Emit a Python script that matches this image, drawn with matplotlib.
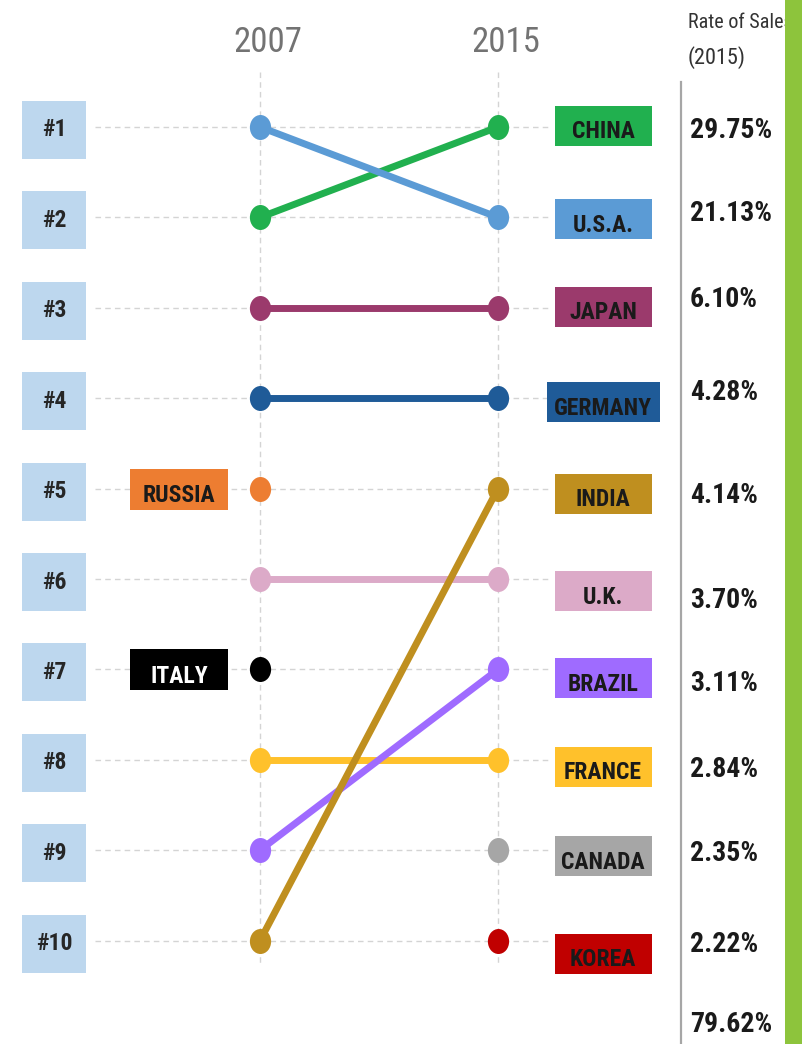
import os
import matplotlib
matplotlib.use("Agg")
import matplotlib.pyplot as plt
from matplotlib.patches import Rectangle
from matplotlib.path import Path
from matplotlib.transforms import Affine2D
from matplotlib import font_manager
from matplotlib.font_manager import FontProperties

# ---------------- data ----------------
years = ["2007", "2015"]
countries = ["CHINA", "U.S.A.", "JAPAN", "GERMANY", "RUSSIA", "U.K.", "ITALY",
             "FRANCE", "BRAZIL", "INDIA", "CANADA", "KOREA"]
rank_2007 = [2, 1, 3, 4, 5, 6, 7, 8, 9, 10, None, None]
rank_2015 = [1, 2, 3, 4, None, 6, None, 8, 7, 5, 9, 10]
colors = ["#21b04f", "#5b9bd5", "#9b3a6c", "#1f5b98", "#ed7d31", "#dcaac8",
          "#000000", "#ffc12b", "#9f6bff", "#bf8f1f", "#a6a6a6", "#c00000"]
rank_labels = ["#1", "#2", "#3", "#4", "#5", "#6", "#7", "#8", "#9", "#10"]
sales_rate_2015 = ["29.75%", "21.13%", "6.10%", "4.28%", "4.14%", "3.70%",
                   "3.11%", "2.84%", "2.35%", "2.22%"]
sales_total = "79.62%"

# layout nudges (pixels, per 2015 rank row) -- purely cosmetic placement
pct_nudge = [3, -4, -8, -6, 7, 21, 14, 10, 3, 4]
total_nudge = -6
box_nudge = [-1, 2, -1, 4, 5, 12, 9, 7, 6, 13]

# ---------------- fonts (prefer a condensed face) ----------------
files = [f.fname for f in font_manager.fontManager.ttflist]
files += font_manager.findSystemFonts()


def find_font(keys_list):
    for keys in keys_list:
        for f in files:
            b = os.path.basename(f).lower().replace(" ", "").replace("_", "")
            if all(k in b for k in keys):
                return f
    return None


bold_file = find_font([["liberationsansnarrow-bold."], ["liberationsansnarrow", "bold"],
                       ["robotocondensed-bold"], ["opensanscondensed-bold"],
                       ["dejavusanscondensed-bold."], ["dejavusans-bold."]])
reg_file = find_font([["liberationsansnarrow-regular"], ["liberationsansnarrow."],
                      ["robotocondensed-regular"], ["opensanscondensed-light"],
                      ["dejavusanscondensed."], ["dejavusans."]])


def fp(size, bold=False):
    f = bold_file if bold else reg_file
    if f:
        return FontProperties(fname=f, size=size)
    return FontProperties(family="DejaVu Sans", size=size,
                          weight="bold" if bold else "normal")


# ellipse marker (dots in the reference are slightly taller than wide)
circ = Path.unit_circle()
oval = Path(Affine2D().scale(0.85, 1.0).transform(circ.vertices), circ.codes)

# ---------------- figure / axes ----------------
W, H = 802, 1044
fig = plt.figure(figsize=(W / 100, H / 100), dpi=100)
ax = fig.add_axes([0, 0, 1, 1])
X0, X1 = 260, 498          # pixel x of the two year columns
Y1, DY = 127, 90.4         # pixel y of rank 1 and row spacing
ax.set_xlim((0 - X0) / (X1 - X0), (W - X0) / (X1 - X0))
ax.set_ylim(1 + (H - Y1) / DY, 1 - Y1 / DY)
ax.axis("off")


def px(p):
    return (p - X0) / (X1 - X0)


def pxw(w):
    return w / (X1 - X0)


def pyh(h):
    return h / DY


def py(p):
    return 1 + (p - Y1) / DY


n_ranks = len(rank_labels)
grid_col = "#d4d4d4"

# vertical dashed guides
for xi in range(len(years)):
    ax.plot([xi, xi], [py(72), py(965)], ls=(0, (4, 3)), color=grid_col, lw=1, zorder=1)

# horizontal dashed guides + rank boxes
for i, lab in enumerate(rank_labels):
    r = i + 1
    ax.plot([px(95), px(548)], [r, r], ls=(0, (4, 3)), color=grid_col, lw=1, zorder=1)
    ax.add_patch(Rectangle((px(22), r - pyh(26)), pxw(64), pyh(58),
                           facecolor="#bdd7ee", edgecolor="none", zorder=2))
    ax.text(px(54), r + pyh(3), lab, ha="center", va="center",
            fontproperties=fp(17, True), color="#262626", zorder=3)

# year headers
for xi, yr in enumerate(years):
    ax.text(xi + pxw(8), py(42), yr, ha="center", va="center",
            fontproperties=fp(25), color="#737373")

# slope lines and dots
for c, a, b, col in zip(countries, rank_2007, rank_2015, colors):
    if a is not None and b is not None:
        ax.plot([0, 1], [a, b], color=col, lw=5, solid_capstyle="round", zorder=4)
    if a is not None:
        ax.plot([0], [a], marker=oval, ls="none", color=col, ms=18, mec="none", zorder=5)
    if b is not None:
        ax.plot([1], [b], marker=oval, ls="none", color=col, ms=18, mec="none", zorder=5)

# country label boxes
for c, a, b, col in zip(countries, rank_2007, rank_2015, colors):
    txtcol = "#ffffff" if col == "#000000" else "#1a1a1a"
    if b is not None:
        w = 113 if c == "GERMANY" else 97
        cx = 603
        yc = b + pyh(box_nudge[b - 1])
        ax.add_patch(Rectangle((px(cx - w / 2), yc - pyh(20)), pxw(w), pyh(40),
                               facecolor=col, edgecolor="none", zorder=2))
        ax.text(px(cx), yc + pyh(6), c, ha="center", va="center",
                fontproperties=fp(17, True), color=txtcol, zorder=3)
    elif a is not None:
        ax.add_patch(Rectangle((px(130), a - pyh(20)), pxw(98), pyh(41),
                               facecolor=col, edgecolor="none", zorder=2))
        ax.text(px(179), a + pyh(7), c, ha="center", va="center",
                fontproperties=fp(17, True), color=txtcol, zorder=3)

# right separator line
ax.plot([px(681), px(681)], [py(82), py(H)], color="#a6a6a6", lw=1.6, zorder=1)

# rate of sales column
ax.text(px(688), py(22), "Rate of Sales", ha="left", va="center",
        fontproperties=fp(14.5), color="#333333", zorder=3)
ax.text(px(688), py(58), "(2015)", ha="left", va="center",
        fontproperties=fp(16), color="#333333", zorder=3)
for i, s in enumerate(sales_rate_2015):
    ax.text(px(690), i + 1 + pyh(pct_nudge[i]), s, ha="left", va="center",
            fontproperties=fp(20, True), color="#1a1a1a", zorder=3)
ax.text(px(690), n_ranks + 1 + pyh(total_nudge), sales_total, ha="left", va="center",
        fontproperties=fp(20, True), color="#1a1a1a", zorder=3)

# green side bar
fig.patches.append(Rectangle((785 / W, 0), 17 / W, 1, transform=fig.transFigure,
                             facecolor="#8dc43c", edgecolor="none", zorder=10))

fig.savefig("out.png", dpi=100)
